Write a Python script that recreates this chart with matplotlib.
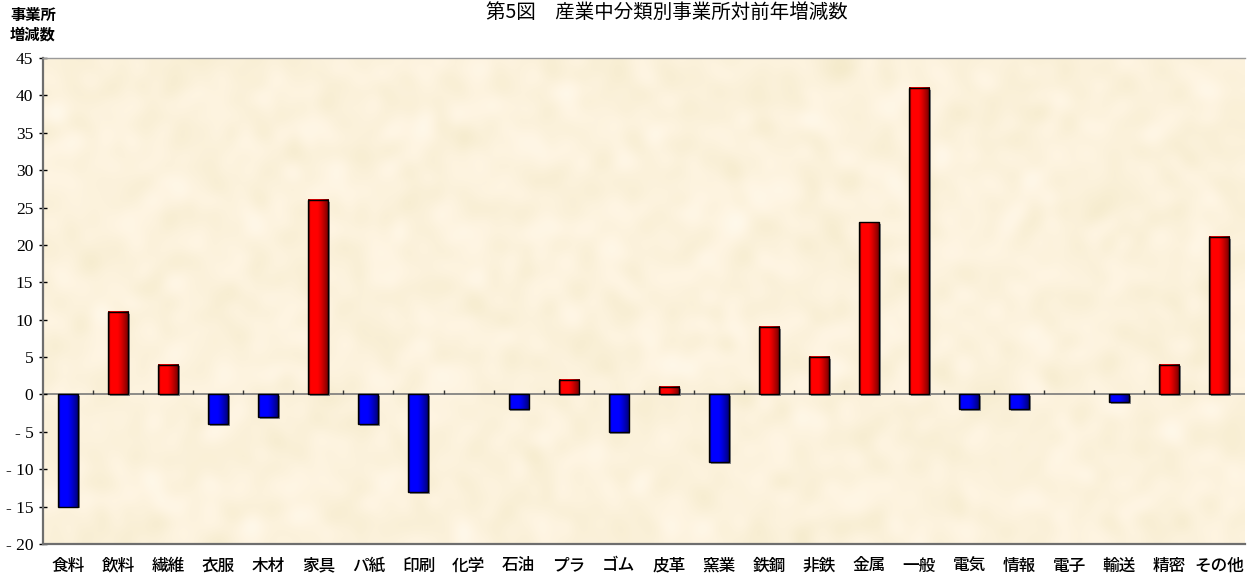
import numpy as np
import matplotlib
matplotlib.use("Agg")
import matplotlib.pyplot as plt
from matplotlib.patches import Rectangle

categories = ["食料", "飲料", "繊維", "衣服", "木材", "家具", "パ紙", "印刷", "化学", "石油",
              "プラ", "ゴム", "皮革", "窯業", "鉄鋼", "非鉄", "金属", "一般", "電気", "情報",
              "電子", "輸送", "精密", "その他"]
changes = [-15, 11, 4, -4, -3, 26, -4, -13, 0, -2,
           2, -5, 1, -9, 9, 5, 23, 41, -2, -2,
           0, -1, 4, 21]
yticks = list(range(-20, 50, 5))

title = "第5図　産業中分類別事業所対前年増減数"
ylabel = "事業所\n増減数"

JP = ["Noto Sans CJK JP", "DejaVu Sans"]
SERIF = ["Liberation Serif", "DejaVu Serif"]

fig = plt.figure(figsize=(12.47, 5.77), dpi=100)
ax = fig.add_axes([0.0345, 0.0572, 0.9635, 0.8423])

n = len(categories)
x = np.arange(n)
width = 0.4
xlim = (-0.5, n - 0.5)
ylim = (-20, 45)

# parchment-like plot area fill
rng = np.random.default_rng(7)
noise = rng.normal(size=(60, 150))
k = np.array([1, 2, 1], float)
k /= k.sum()
for axis in (0, 1):
    noise = np.apply_along_axis(lambda r: np.convolve(r, k, mode="same"), axis, noise)
noise = (noise - noise.mean()) / noise.std()
base = np.array([252, 242, 220]) / 255.0
tint = np.array([4, 4, 9]) / 255.0
paper = np.clip(base[None, None, :] + noise[:, :, None] * tint[None, None, :] * 0.5, 0, 1)
ax.imshow(paper, extent=(*xlim, *ylim), aspect="auto", interpolation="bicubic", zorder=0)

# horizontal gradient used to shade each bar
grad = np.linspace(0, 1, 64)

def shade(base, dark):
    base = np.array(matplotlib.colors.to_rgb(base))
    dark = np.array(matplotlib.colors.to_rgb(dark))
    t = np.clip((grad - 0.45) / 0.55, 0, 1) ** 1.3
    t = np.where(grad < 0.08, 0.8, t)
    cols = base[None, :] * (1 - t[:, None]) + dark[None, :] * t[:, None]
    return cols[None, :, :]

red_img = shade("#ff0000", "#6a0000")
blue_img = shade("#0000ff", "#00006a")

for xi, v in zip(x, changes):
    if v == 0:
        continue
    x0 = xi - width / 2
    lo, hi = min(0, v), max(0, v)
    # drop shadow
    ax.add_patch(Rectangle((x0 + 0.035, lo - 0.25), width, hi - lo,
                           facecolor="#8a8a8a", edgecolor="none", zorder=2))
    img = red_img if v > 0 else blue_img
    ax.imshow(img, extent=(x0, x0 + width, lo, hi), aspect="auto",
              interpolation="bilinear", zorder=3)
    ax.add_patch(Rectangle((x0, lo), width, hi - lo, facecolor="none",
                           edgecolor="black", linewidth=1.0, zorder=4))

ax.set_xlim(*xlim)
ax.set_ylim(*ylim)

# zero line with category separators
ax.axhline(0, color="#7a7a7a", linewidth=1.2, zorder=1)
bounds = np.arange(0.5, n - 0.5, 1.0)
ax.vlines(bounds, 0, 0.65, color="#333333", linewidth=1.0, zorder=1)

ax.set_xticks(x)
ax.set_xticklabels(categories, fontfamily=JP, fontsize=12, fontweight="medium")
ax.tick_params(axis="x", length=0, pad=9)

ax.set_yticks(yticks)
ax.set_yticklabels([f"- {abs(t)}" if t < 0 else f"{t}" for t in yticks],
                   fontfamily=SERIF, fontsize=12.5)
ax.tick_params(axis="y", direction="inout", length=6, width=1.0, pad=4)

for side in ["left", "bottom", "top"]:
    ax.spines[side].set_color("#6e6e6e")
    ax.spines[side].set_linewidth(1.6)
ax.spines["right"].set_visible(False)
ax.spines["top"].set_linewidth(1.0)
ax.spines["top"].set_color("#9a9a9a")

fig.text(0.535, 0.997, title, ha="center", va="top", fontfamily=JP, fontsize=14)
fig.text(0.008, 0.988, ylabel, ha="left", va="top", fontfamily=JP, fontsize=11,
         fontweight="bold", linespacing=1.25)

fig.savefig("out.png", dpi=100)
